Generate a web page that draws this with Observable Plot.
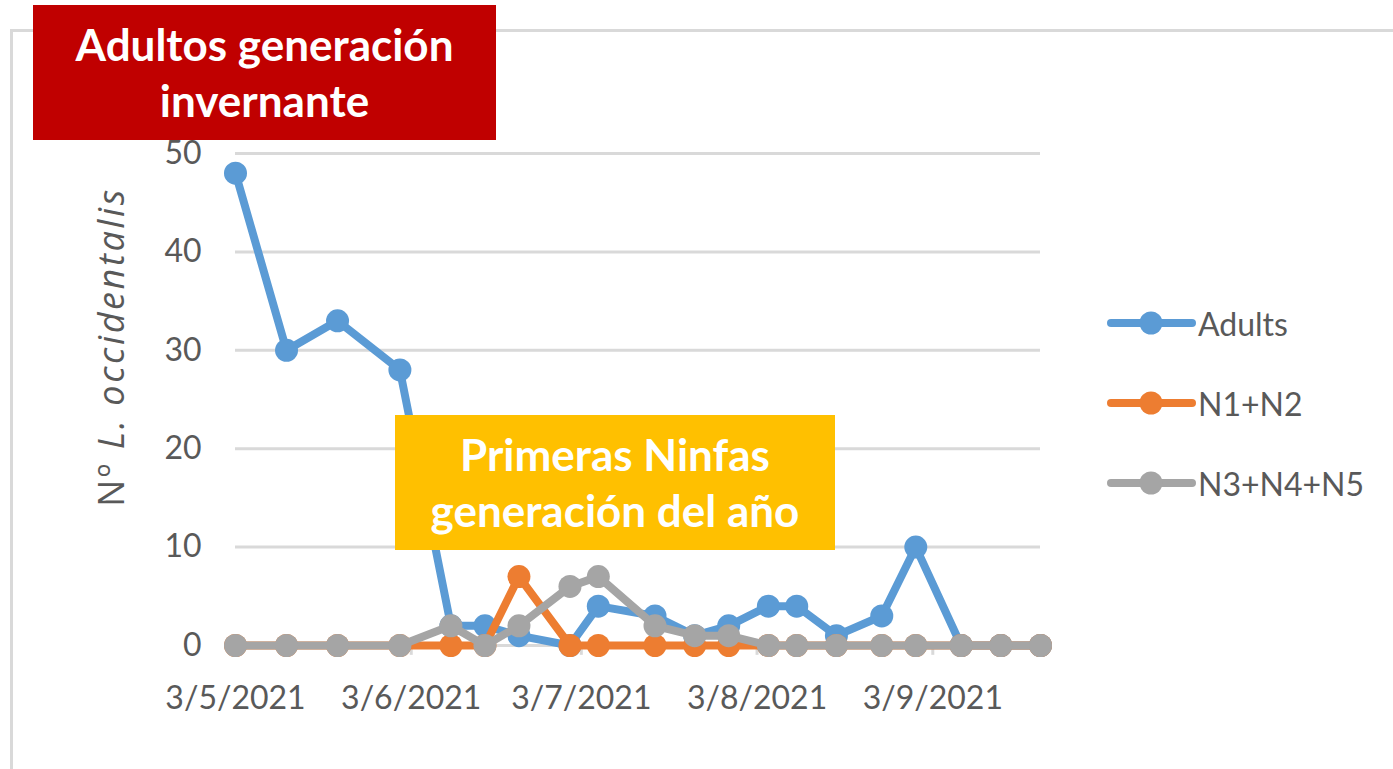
<!DOCTYPE html>
<html>
<head>
<meta charset="utf-8">
<script src="https://cdn.jsdelivr.net/npm/d3@7"></script>
<script src="https://cdn.jsdelivr.net/npm/@observablehq/plot@0.6"></script>
<style>
  html, body { margin: 0; padding: 0; background: #fff; }
  #wrap { position: relative; width: 1393px; height: 769px; overflow: hidden; font-family: Lato, "Open Sans", sans-serif; }
  #frame { position: absolute; left: 10px; top: 29px; width: 1420px; height: 800px; border: 3px solid #d9d9d9; box-sizing: border-box; }
  .box { position: absolute; color: #fff; font-weight: bold; text-align: center; display: flex; align-items: center; justify-content: center; line-height: 1.27; }
  #ylab { position: absolute; left: 110px; top: 347px; transform: translate(-50%, -50%) rotate(-90deg); white-space: nowrap; font-family: "Open Sans", sans-serif; font-size: 36px; letter-spacing: 2.6px; color: #595959; }
  .leg { position: absolute; left: 1106px; height: 40px; display: flex; align-items: center; font-size: 32px; color: #595959; }
  .leg svg { margin-right: 2px; }
</style>
</head>
<body>
<div id="wrap"></div>
<script>
// ---- data ----
const dates = ["2021-05-03","2021-05-12","2021-05-21","2021-06-01","2021-06-10","2021-06-16","2021-06-22","2021-07-01","2021-07-06","2021-07-16","2021-07-23","2021-07-29","2021-08-05","2021-08-10","2021-08-17","2021-08-25","2021-08-31","2021-09-08","2021-09-15","2021-09-22"];
const adults = [48,30,33,28,2,2,1,0,4,3,1,2,4,4,1,3,10,0,0,0];
const n1n2   = [0,0,0,0,0,0,7,0,0,0,0,0,0,0,0,0,0,0,0,0];
const n3n4n5 = [0,0,0,0,2,0,2,6,7,2,1,1,0,0,0,0,0,0,0,0];
const seriesNames = ["Adults","N1+N2","N3+N4+N5"];
const seriesColors = ["#5b9bd5","#ed7d31","#a5a5a5"];
const xTickDates = ["2021-05-03","2021-06-03","2021-07-03","2021-08-03","2021-09-03"];
const xTickLabels = ["3/5/2021","3/6/2021","3/7/2021","3/8/2021","3/9/2021"];
const yTicks = [0,10,20,30,40,50];
const xDomain = ["2021-05-03","2021-09-22"];

const seriesValues = [adults, n1n2, n3n4n5];
const table = [];
seriesValues.forEach((vals, s) => vals.forEach((v, i) => table.push({date: new Date(dates[i]), value: v, series: seriesNames[s]})));
const tickD = xTickDates.map(d => new Date(d));

const marks = [
  Plot.ruleY(yTicks, {stroke: "#d9d9d9", strokeWidth: 3}),
  Plot.ruleX(tickD, {x: d => d, y1: 0, y2: -1.0, stroke: "#d9d9d9", strokeWidth: 3}),
];
seriesNames.forEach((name, s) => {
  const data = table.filter(d => d.series === name);
  marks.push(Plot.line(data, {x: "date", y: "value", stroke: seriesColors[s], strokeWidth: 8, strokeLinejoin: "round", strokeLinecap: "round"}));
  marks.push(Plot.dot(data, {x: "date", y: "value", r: 11.5, fill: seriesColors[s], stroke: "none"}));
});
marks.push(Plot.axisX({ticks: tickD, tickSize: 0, tickPadding: 41, tickFormat: (d, i) => xTickLabels[i], fontSize: 32, color: "#595959", label: null}));
marks.push(Plot.axisY({ticks: yTicks, tickSize: 0, tickPadding: 34, fontSize: 32, color: "#595959", label: null}));

const chart = Plot.plot({
  width: 1393, height: 769,
  marginLeft: 235, marginRight: 353, marginTop: 153, marginBottom: 124,
  x: {type: "utc", domain: xDomain.map(d => new Date(d))},
  y: {domain: [0, 50]},
  style: {background: "transparent", fontFamily: "Lato, 'Open Sans', sans-serif", overflow: "visible"},
  marks
});
chart.style.position = "absolute";
chart.style.left = "0px";
chart.style.top = "0px";
chart.querySelectorAll("text").forEach(t => t.setAttribute("fill", "#595959"));

const wrap = document.getElementById("wrap");
const frame = document.createElement("div");
frame.id = "frame";
wrap.appendChild(frame);
wrap.appendChild(chart);

const ylab = document.createElement("div");
ylab.id = "ylab";
ylab.innerHTML = "Nº <i>L. occidentalis</i>";
wrap.appendChild(ylab);

// legend
const legY = [303, 383, 463];
seriesNames.forEach((name, s) => {
  const el = document.createElement("div");
  el.className = "leg";
  el.style.top = legY[s] + "px";
  el.innerHTML = `<svg width="90" height="40"><line x1="5" y1="20" x2="86" y2="20" stroke="${seriesColors[s]}" stroke-width="8" stroke-linecap="round"/><circle cx="45" cy="20" r="11.5" fill="${seriesColors[s]}"/></svg><span>${name}</span>`;
  wrap.appendChild(el);
});

// annotation boxes
function box(lines, left, top, w, h, bg) {
  const b = document.createElement("div");
  b.className = "box";
  Object.assign(b.style, {left: left + "px", top: top + "px", width: w + "px", height: h + "px", background: bg, fontSize: "44px"});
  b.innerHTML = lines.join("<br>");
  wrap.appendChild(b);
}
box(["Adultos generación", "invernante"], 33, 5, 463, 135, "#c00000");
box(["Primeras Ninfas", "generación del año"], 395, 415, 440, 135, "#ffc000");
</script>
</body>
</html>
